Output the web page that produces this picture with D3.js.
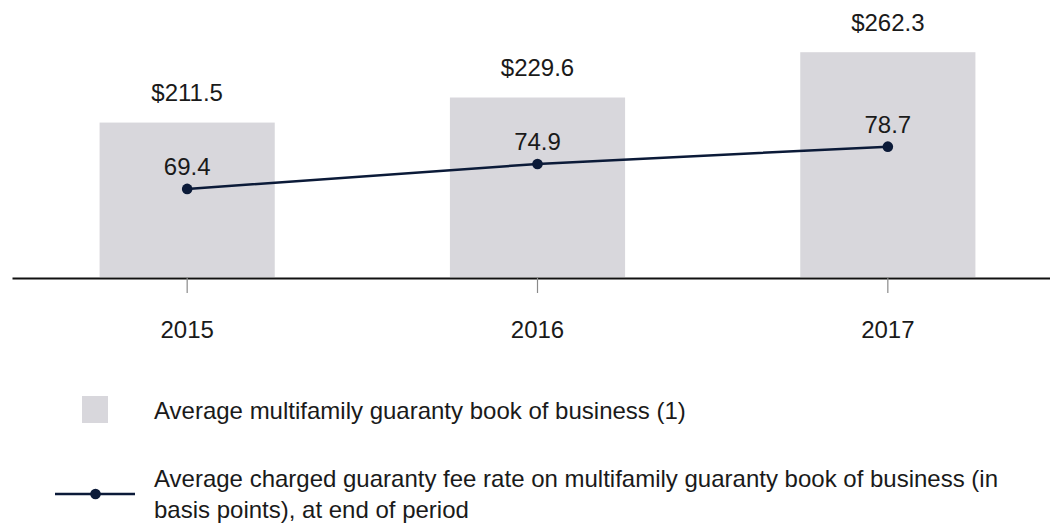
<!DOCTYPE html>
<meta charset="utf-8">
<script src="https://d3js.org/d3.v7.min.js"></script>
<style>
  body { margin: 0; background: #fff; }
  text { font-family: "Liberation Sans", Arial, sans-serif; fill: #1a1a1a; }
</style>
<div id="my_dataviz"></div>
<script>
// data
var years = ["2015", "2016", "2017"];
var bookValues = [211.5, 229.6, 262.3];   // $ billions, bars
var feeRates = [69.4, 74.9, 78.7];        // basis points, line
var barLabels = ["$211.5", "$229.6", "$262.3"];
var lineLabels = ["69.4", "74.9", "78.7"];
var legendBar = "Average multifamily guaranty book of business (1)";
var legendLine = ["Average charged guaranty fee rate on multifamily guaranty book of business (in",
                  "basis points), at end of period"];

var width = 1050, height = 525;
var baseY = 277;
var fontSize = "24px";

var svg = d3.select("#my_dataviz")
  .append("svg")
  .attr("width", width)
  .attr("height", height);

var x = d3.scaleBand()
  .domain(years)
  .range([12, 1063])
  .paddingInner(0.5)
  .paddingOuter(0.25);

// bar and line each have their own (non-zero based) scale
var yBar = d3.scaleLinear().domain([100, 300]).range([baseY, 0]);
var yLine = d3.scaleLinear().domain([50, 111]).range([baseY, 0]);

var barColor = "#d8d7dc";
var lineColor = "#0b1a38";

// bars
svg.selectAll("rect.bar")
  .data(bookValues)
  .enter()
  .append("rect")
  .attr("class", "bar")
  .attr("x", function (d, i) { return x(years[i]); })
  .attr("y", function (d) { return yBar(d); })
  .attr("width", x.bandwidth())
  .attr("height", function (d) { return baseY - yBar(d); })
  .attr("fill", barColor);

svg.selectAll("text.barlab")
  .data(bookValues)
  .enter()
  .append("text")
  .attr("class", "barlab")
  .attr("x", function (d, i) { return x(years[i]) + x.bandwidth() / 2; })
  .attr("y", function (d) { return yBar(d) - 21.5; })
  .attr("text-anchor", "middle")
  .style("font-size", fontSize)
  .text(function (d, i) { return barLabels[i]; });

// x axis
var axis = svg.append("g")
  .attr("transform", "translate(0," + (baseY + 1) + ")")
  .call(d3.axisBottom(x).tickSize(15).tickSizeOuter(0).tickPadding(28));
axis.select(".domain").attr("stroke", "#111").attr("stroke-width", 2.2);
axis.selectAll(".tick line").attr("stroke", "#8a8a8a").attr("stroke-width", 1.2);
axis.selectAll(".tick text")
  .style("font-size", fontSize)
  .style("font-family", "'Liberation Sans', Arial, sans-serif")
  .attr("fill", "#1a1a1a");

// line
var cx = function (d, i) { return x(years[i]) + x.bandwidth() / 2; };
var line = d3.line()
  .x(function (d, i) { return cx(d, i); })
  .y(function (d) { return yLine(d); });

svg.append("path")
  .datum(feeRates)
  .attr("d", line)
  .attr("fill", "none")
  .attr("stroke", lineColor)
  .attr("stroke-width", 2.5);

svg.selectAll("circle.pt")
  .data(feeRates)
  .enter()
  .append("circle")
  .attr("class", "pt")
  .attr("cx", cx)
  .attr("cy", function (d) { return yLine(d); })
  .attr("r", 5.3)
  .attr("fill", lineColor);

svg.selectAll("text.linelab")
  .data(feeRates)
  .enter()
  .append("text")
  .attr("class", "linelab")
  .attr("x", cx)
  .attr("y", function (d) { return yLine(d) - 13.5; })
  .attr("text-anchor", "middle")
  .style("font-size", fontSize)
  .text(function (d, i) { return lineLabels[i]; });

// legend
var legend = svg.append("g");
legend.append("rect")
  .attr("x", 82).attr("y", 396)
  .attr("width", 26).attr("height", 27)
  .attr("fill", barColor);
legend.append("text")
  .attr("x", 154).attr("y", 419)
  .style("font-size", fontSize)
  .text(legendBar);

legend.append("line")
  .attr("x1", 55).attr("x2", 135)
  .attr("y1", 494).attr("y2", 494)
  .attr("stroke", lineColor).attr("stroke-width", 2.5);
legend.append("circle")
  .attr("cx", 95.5).attr("cy", 494).attr("r", 5.3)
  .attr("fill", lineColor);
legend.append("text")
  .attr("x", 154).attr("y", 487)
  .style("font-size", fontSize)
  .selectAll("tspan")
  .data(legendLine)
  .enter()
  .append("tspan")
  .attr("x", 154)
  .attr("dy", function (d, i) { return i === 0 ? 0 : 31; })
  .text(function (d) { return d; });
</script>
